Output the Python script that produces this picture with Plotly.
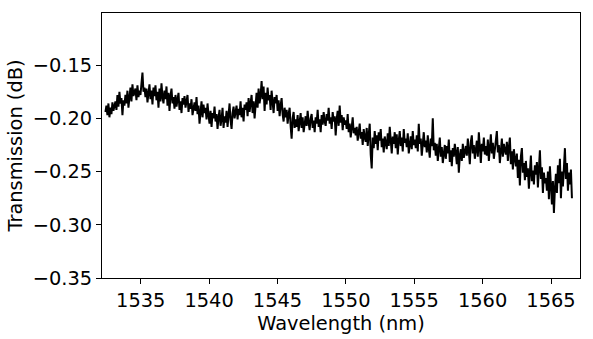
import numpy as np
import plotly.graph_objects as go

# spectrum, wavelength in nm, transmission in dB
WL_START, WL_STOP = 1532.42, 1566.53

transmission = [
    -0.194, -0.188, -0.197, -0.186, -0.199, -0.190, -0.196, -0.185, -0.193, -0.189,
    -0.184, -0.192, -0.178, -0.189, -0.175, -0.186, -0.181, -0.197, -0.183, -0.188,
    -0.178, -0.186, -0.174, -0.190, -0.180, -0.171, -0.184, -0.168, -0.179, -0.175,
    -0.172, -0.183, -0.169, -0.180, -0.174, -0.178, -0.166, -0.157, -0.175, -0.171,
    -0.180, -0.172, -0.185, -0.176, -0.168, -0.182, -0.174, -0.187, -0.171, -0.179,
    -0.169, -0.183, -0.175, -0.190, -0.172, -0.184, -0.167, -0.180, -0.186, -0.174,
    -0.182, -0.170, -0.188, -0.176, -0.193, -0.179, -0.172, -0.186, -0.180, -0.191,
    -0.178, -0.189, -0.183, -0.176, -0.192, -0.184, -0.195, -0.181, -0.187, -0.179,
    -0.190, -0.183, -0.178, -0.194, -0.186, -0.191, -0.182, -0.197, -0.188, -0.185,
    -0.193, -0.180, -0.196, -0.188, -0.205, -0.191, -0.184, -0.199, -0.187, -0.195,
    -0.190, -0.201, -0.186, -0.197, -0.205, -0.193, -0.208, -0.195, -0.200, -0.189,
    -0.203, -0.196, -0.210, -0.199, -0.192, -0.207, -0.201, -0.190, -0.209, -0.198,
    -0.204, -0.193, -0.208, -0.197, -0.186, -0.202, -0.210, -0.195, -0.189, -0.200,
    -0.194, -0.188, -0.201, -0.191, -0.197, -0.184, -0.199, -0.190, -0.203, -0.187,
    -0.192, -0.185, -0.198, -0.181, -0.194, -0.188, -0.178, -0.195, -0.184, -0.200,
    -0.183, -0.176, -0.190, -0.172, -0.186, -0.179, -0.165, -0.182, -0.170, -0.193,
    -0.176, -0.187, -0.171, -0.183, -0.178, -0.192, -0.174, -0.185, -0.195, -0.180,
    -0.186, -0.178, -0.193, -0.183, -0.198, -0.188, -0.181, -0.196, -0.203, -0.190,
    -0.199, -0.192, -0.205, -0.196, -0.190, -0.207, -0.219, -0.200, -0.194, -0.209,
    -0.201, -0.208, -0.197, -0.212, -0.203, -0.195, -0.209, -0.199, -0.213, -0.204,
    -0.198, -0.207, -0.193, -0.204, -0.211, -0.200, -0.196, -0.209, -0.202, -0.213,
    -0.199, -0.205, -0.192, -0.208, -0.201, -0.213, -0.197, -0.206, -0.194, -0.203,
    -0.207, -0.196, -0.202, -0.190, -0.205, -0.199, -0.210, -0.194, -0.203, -0.198,
    -0.216, -0.201, -0.193, -0.207, -0.188, -0.204, -0.197, -0.211, -0.199, -0.206,
    -0.202, -0.210, -0.196, -0.213, -0.205, -0.218, -0.207, -0.199, -0.214, -0.209,
    -0.216, -0.208, -0.221, -0.211, -0.205, -0.219, -0.213, -0.225, -0.210, -0.218,
    -0.222, -0.209, -0.226, -0.215, -0.205, -0.234, -0.247, -0.218, -0.228, -0.212,
    -0.224, -0.216, -0.230, -0.213, -0.221, -0.210, -0.227, -0.219, -0.232, -0.217,
    -0.222, -0.229, -0.214, -0.226, -0.208, -0.220, -0.233, -0.217, -0.224, -0.213,
    -0.228, -0.215, -0.234, -0.221, -0.212, -0.226, -0.218, -0.231, -0.210, -0.223,
    -0.219, -0.227, -0.214, -0.233, -0.222, -0.217, -0.229, -0.212, -0.225, -0.220,
    -0.228, -0.216, -0.231, -0.205, -0.224, -0.219, -0.235, -0.222, -0.213, -0.227,
    -0.221, -0.232, -0.216, -0.228, -0.237, -0.219, -0.226, -0.200, -0.230, -0.223,
    -0.235, -0.224, -0.240, -0.229, -0.218, -0.236, -0.227, -0.242, -0.231, -0.225,
    -0.238, -0.226, -0.233, -0.220, -0.241, -0.230, -0.245, -0.228, -0.236, -0.224,
    -0.232, -0.243, -0.227, -0.251, -0.235, -0.229, -0.240, -0.224, -0.237, -0.230,
    -0.226, -0.235, -0.219, -0.230, -0.243, -0.222, -0.216, -0.233, -0.225, -0.238,
    -0.229, -0.221, -0.236, -0.213, -0.227, -0.242, -0.224, -0.231, -0.218, -0.234,
    -0.226, -0.235, -0.220, -0.240, -0.228, -0.215, -0.233, -0.223, -0.238, -0.229,
    -0.221, -0.212, -0.232, -0.225, -0.242, -0.228, -0.219, -0.236, -0.224, -0.230,
    -0.234, -0.222, -0.240, -0.227, -0.218, -0.243, -0.231, -0.248, -0.229, -0.238,
    -0.245, -0.233, -0.256, -0.239, -0.263, -0.236, -0.228, -0.251, -0.242, -0.258,
    -0.240, -0.255, -0.247, -0.266, -0.243, -0.235, -0.259, -0.249, -0.262, -0.244,
    -0.253, -0.241, -0.265, -0.248, -0.230, -0.257, -0.246, -0.270, -0.251, -0.261,
    -0.256, -0.268, -0.250, -0.276, -0.245, -0.263, -0.281, -0.259, -0.289, -0.266,
    -0.252, -0.270, -0.244, -0.261, -0.238, -0.275, -0.250, -0.264, -0.247, -0.228,
    -0.257, -0.242, -0.268, -0.251, -0.262, -0.248, -0.275,
]
wavelength = np.linspace(WL_START, WL_STOP, len(transmission))

x_ticks = [1535, 1540, 1545, 1550, 1555, 1560, 1565]
y_ticks = [-0.35, -0.30, -0.25, -0.20, -0.15]
y_ticktext = ["\u22120.35", "\u22120.30", "\u22120.25", "\u22120.20", "\u22120.15"]

FONT = "DejaVu Sans"
FS = 19.4

fig = go.Figure()
fig.add_trace(go.Scatter(x=wavelength, y=transmission, mode="lines",
                         line=dict(color="#000000", width=2)))

axis_style = dict(showline=True, linecolor="#000000", linewidth=1, mirror=True,
                  ticks="outside", ticklen=5, tickwidth=1, tickcolor="#000000",
                  showgrid=False, zeroline=False, automargin=False,
                  tickfont=dict(family=FONT, size=FS, color="#000000"))

fig.update_xaxes(range=[1532.17, 1567.12], tickvals=x_ticks,
                 title=dict(text="Wavelength (nm)", standoff=5,
                            font=dict(family=FONT, size=FS, color="#000000")),
                 **axis_style)
fig.update_yaxes(range=[-0.35, -0.101], tickvals=y_ticks, ticktext=y_ticktext,
                 title=dict(text="Transmission (dB)", standoff=4,
                            font=dict(family=FONT, size=FS, color="#000000")),
                 **axis_style)

fig.update_layout(width=593, height=339, showlegend=False,
                  plot_bgcolor="#ffffff", paper_bgcolor="#ffffff",
                  margin=dict(l=102, r=13, t=13, b=61),
                  font=dict(family=FONT, size=FS, color="#000000"))

# drop the default body margin so the figure sits at the page corner
fig.write_html("out.html", config={"displayModeBar": False},
               post_script="document.body.style.margin = '0px';")
